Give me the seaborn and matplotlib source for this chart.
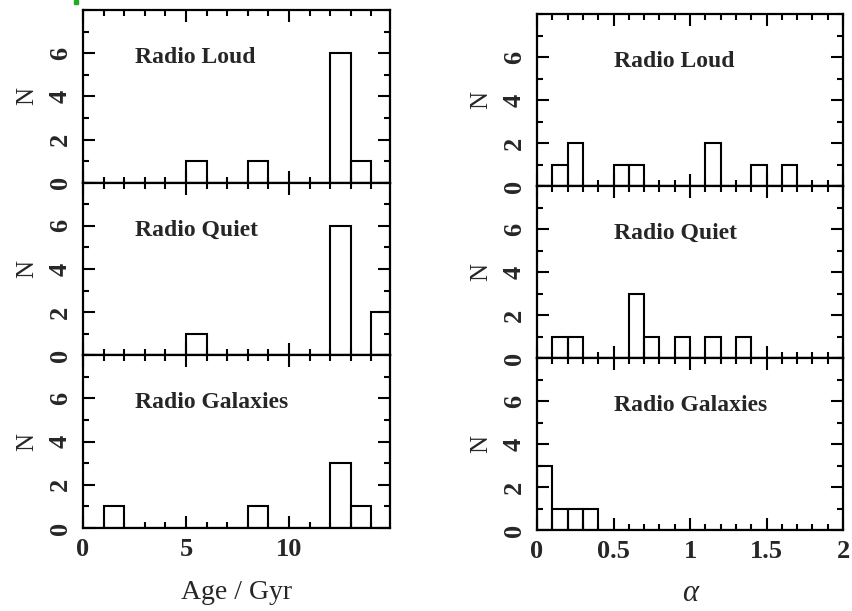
import numpy as np
import pandas as pd
import matplotlib
matplotlib.use("Agg")
import matplotlib.pyplot as plt
from matplotlib.ticker import MultipleLocator, FixedLocator
import seaborn as sns

sns.set_theme(style="ticks")
plt.rcParams["font.family"] = ["Liberation Serif", "DejaVu Serif"]

# Histogram bins and counts per sample
age_binwidth = 1.0
age_range = (0, 15)
age_loud = [0, 0, 0, 0, 0, 1, 0, 0, 1, 0, 0, 0, 6, 1, 0]
age_quiet = [0, 0, 0, 0, 0, 1, 0, 0, 0, 0, 0, 0, 6, 0, 2]
age_gal = [0, 1, 0, 0, 0, 0, 0, 0, 1, 0, 0, 0, 3, 1, 0]

alpha_binwidth = 0.1
alpha_range = (0, 2)
alpha_loud = [0, 1, 2, 0, 0, 1, 1, 0, 0, 0, 0, 2, 0, 0, 1, 0, 1, 0, 0, 0]
alpha_quiet = [0, 1, 1, 0, 0, 0, 3, 1, 0, 1, 0, 1, 0, 1, 0, 0, 0, 0, 0, 0]
alpha_gal = [3, 1, 1, 1, 0, 0, 0, 0, 0, 0, 0, 0, 0, 0, 0, 0, 0, 0, 0, 0]

panel_names = ["Radio Loud", "Radio Quiet", "Radio Galaxies"]
age_ticks = [0, 5, 10]
alpha_ticks = [0, 0.5, 1, 1.5, 2]
alpha_ticklabels = ["0", "0.5", "1", "1.5", "2"]
y_ticks = [0, 2, 4, 6]

W, H = 852, 611
fig = plt.figure(figsize=(W / 100, H / 100), dpi=100)
fig.patch.set_facecolor("white")


def px_axes(x0, x1, y_top, y_bot):
    return fig.add_axes([x0 / W, 1 - y_bot / H, (x1 - x0) / W, (y_bot - y_top) / H])


def style_axes(ax, xlim, major_x, minor_x, show_xlabels):
    ax.set_xlim(*xlim)
    ax.set_ylim(0, 8)
    ax.xaxis.set_major_locator(FixedLocator(major_x))
    ax.xaxis.set_minor_locator(MultipleLocator(minor_x))
    ax.yaxis.set_major_locator(FixedLocator(y_ticks))
    ax.yaxis.set_minor_locator(MultipleLocator(1))
    ax.tick_params(which="both", direction="in", top=True, right=True,
                   width=1.5, color="black")
    ax.tick_params(which="major", length=8.5)
    ax.tick_params(which="minor", length=4.5)
    ax.tick_params(axis="y", labelrotation=90, labelsize=19, pad=8)
    ax.tick_params(axis="x", labelsize=19, pad=7)
    for lab in ax.get_yticklabels():
        lab.set_verticalalignment("center")
        lab.set_fontweight("bold")
    for lab in ax.get_xticklabels():
        lab.set_fontweight("bold")
    if not show_xlabels:
        ax.tick_params(axis="x", labelbottom=False)
    for s in ax.spines.values():
        s.set_linewidth(1.6)
        s.set_color("black")
    ax.set_ylabel("N", fontsize=18, labelpad=8)
    ax.set_xlabel("")


def draw_hist(ax, binwidth, binrange, counts):
    counts = np.asarray(counts, dtype=float)
    centers = binrange[0] + binwidth * (np.arange(len(counts)) + 0.5)
    df = pd.DataFrame({"x": centers, "n": counts})
    sns.histplot(data=df, x="x", weights="n", binwidth=binwidth,
                 binrange=binrange, ax=ax, fill=False,
                 element="bars", color="black", linewidth=1.5)


# Left column: age
left_tops = [10, 182.7, 355.3]
left_h = 172.7
for i, (name, counts) in enumerate(zip(panel_names, [age_loud, age_quiet, age_gal])):
    ax = px_axes(83, 390, left_tops[i], left_tops[i] + left_h)
    draw_hist(ax, age_binwidth, age_range, counts)
    style_axes(ax, (0, 14.9), age_ticks, 1, i == 2)
    ax.text(2.5, 5.8, name, fontsize=17, fontweight="bold", va="center", ha="left")
    if i == 2:
        ax.set_xlabel("Age / Gyr", fontsize=20, labelpad=14)

# Right column: spectral index
right_tops = [14, 186, 358]
right_h = 172
for i, (name, counts) in enumerate(zip(panel_names, [alpha_loud, alpha_quiet, alpha_gal])):
    ax = px_axes(537, 843, right_tops[i], right_tops[i] + right_h)
    draw_hist(ax, alpha_binwidth, alpha_range, counts)
    style_axes(ax, (0, 2), alpha_ticks, 0.1, i == 2)
    if i == 2:
        ax.set_xticks(alpha_ticks)
        ax.set_xticklabels(alpha_ticklabels, fontweight="bold")
    ax.text(0.5, 5.8, name, fontsize=17, fontweight="bold", va="center", ha="left")
    if i == 2:
        ax.set_xlabel("α", fontsize=22, fontstyle="italic", labelpad=12)

# small green marker at the upper left
fig.patches.append(plt.Rectangle((74 / W, 1 - 4 / H), 4 / W, 4 / H,
                                 transform=fig.transFigure, color="#22aa22"))

fig.savefig("out.png", dpi=100, facecolor="white")
